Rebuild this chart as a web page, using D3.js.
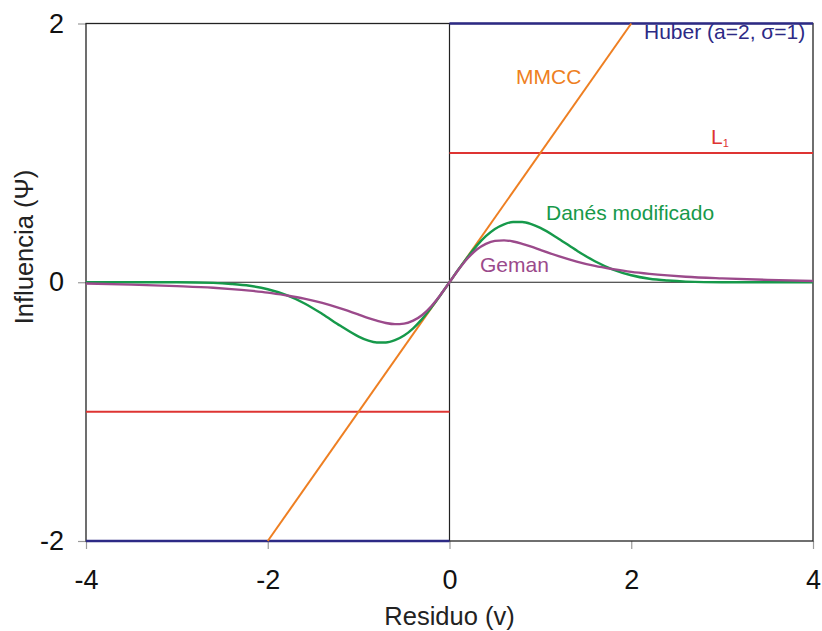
<!DOCTYPE html>
<html>
<head>
<meta charset="utf-8">
<script src="https://cdn.jsdelivr.net/npm/d3@7"></script>
<style>
  html, body { margin: 0; padding: 0; background: #fff; }
  svg { display: block; font-family: "Liberation Sans", Arial, Helvetica, sans-serif; }
</style>
</head>
<body>
<svg id="chart" width="822" height="631"></svg>
<script>
// Residual grid shared by the smooth influence curves
const residuals = [-4.0, -3.5, -3.0, -2.6, -2.4, -2.2, -2.0, -1.8, -1.6, -1.4, -1.2, -1.0,
  -0.9, -0.8, -0.7, -0.6, -0.5, -0.4, -0.3, -0.2, -0.1, 0.0,
  0.1, 0.2, 0.3, 0.4, 0.5, 0.6, 0.7, 0.8, 0.9, 1.0,
  1.2, 1.4, 1.6, 1.8, 2.0, 2.2, 2.4, 2.6, 3.0, 3.5, 4.0];

// Danés modificado influence values
const danesValues = [0.000, 0.000, 0.000, -0.005, -0.013, -0.027, -0.054, -0.098, -0.162, -0.245, -0.337, -0.420,
  -0.450, -0.466, -0.466, -0.448, -0.412, -0.356, -0.283, -0.195, -0.100, 0.000,
  0.100, 0.195, 0.283, 0.356, 0.412, 0.448, 0.466, 0.466, 0.450, 0.420,
  0.337, 0.245, 0.162, 0.098, 0.054, 0.027, 0.013, 0.005, 0.000, 0.000, 0.000];

// Geman influence values
const gemanValues = [-0.010, -0.018, -0.030, -0.043, -0.053, -0.065, -0.080, -0.101, -0.126, -0.160, -0.202, -0.250,
  -0.275, -0.297, -0.315, -0.324, -0.320, -0.297, -0.253, -0.185, -0.098, 0.000,
  0.098, 0.185, 0.253, 0.297, 0.320, 0.324, 0.315, 0.297, 0.275, 0.250,
  0.202, 0.160, 0.126, 0.101, 0.080, 0.065, 0.053, 0.043, 0.030, 0.018, 0.010];

// Piecewise estimators: each entry is a segment [x0, y0, x1, y1]
const mmccSegments = [[-2, -2, 2, 2]];
const l1Segments = [[-4, -1, 0, -1], [0, 1, 4, 1]];
const huberSegments = [[-4, -2, 0, -2], [0, 2, 4, 2]];

// Axis ticks
const xTicks = [-4, -2, 0, 2, 4];
const yTicks = [-2, 0, 2];

const colors = {
  huber: "#2d2a85",
  mmcc: "#ee7f22",
  l1: "#de3432",
  danes: "#16994a",
  geman: "#9b4a8b"
};

const margin = { top: 23.5, right: 9, bottom: 90, left: 86 };
const width = 822, height = 631;
const svg = d3.select("#chart");

const x = d3.scaleLinear().domain([-4, 4]).range([margin.left, width - margin.right]);
const y = d3.scaleLinear().domain([-2, 2]).range([height - margin.bottom, margin.top]);

// Axes with gray outward ticks
const xAxis = svg.append("g")
  .attr("transform", `translate(0,${y(-2)})`)
  .call(d3.axisBottom(x).tickValues(xTicks).tickSize(8).tickPadding(21).tickFormat(d3.format("d")));
const yAxis = svg.append("g")
  .attr("transform", `translate(${x(-4)},0)`)
  .call(d3.axisLeft(y).tickValues(yTicks).tickSize(8).tickPadding(14).tickFormat(d3.format("d")));
[xAxis, yAxis].forEach(g => {
  g.select(".domain").remove();
  g.selectAll(".tick line").attr("stroke", "#9a9a9a").attr("stroke-width", 1.2);
  g.selectAll(".tick text")
    .attr("fill", "#111")
    .style("font-size", "27px")
    .style("font-family", "'Liberation Sans', Arial, sans-serif")
    .text(d => d < 0 ? "-" + Math.abs(d) : d);
});

// Plot frame and zero axes
svg.append("rect")
  .attr("x", x(-4)).attr("y", y(2))
  .attr("width", x(4) - x(-4)).attr("height", y(-2) - y(2))
  .attr("fill", "none").attr("stroke", "#222").attr("stroke-width", 1.3);
svg.append("line")
  .attr("x1", x(0)).attr("x2", x(0)).attr("y1", y(2)).attr("y2", y(-2))
  .attr("stroke", "#222").attr("stroke-width", 1.2);
svg.append("line")
  .attr("x1", x(-4)).attr("x2", x(4)).attr("y1", y(0)).attr("y2", y(0))
  .attr("stroke", "#222").attr("stroke-width", 1.2);

// Straight-segment estimators
function drawSegments(segs, color, w) {
  svg.append("g").selectAll("line").data(segs).join("line")
    .attr("x1", d => x(d[0])).attr("y1", d => y(d[1]))
    .attr("x2", d => x(d[2])).attr("y2", d => y(d[3]))
    .attr("stroke", color).attr("stroke-width", w);
}
drawSegments(huberSegments, colors.huber, 2.6);
drawSegments(l1Segments, colors.l1, 2);
drawSegments(mmccSegments, colors.mmcc, 2);

// Smooth influence curves
const line = d3.line().x(d => x(d[0])).y(d => y(d[1])).curve(d3.curveMonotoneX);
function drawCurve(vals, color) {
  svg.append("path")
    .datum(residuals.map((r, i) => [r, vals[i]]))
    .attr("d", line)
    .attr("fill", "none").attr("stroke", color).attr("stroke-width", 2.4);
}
drawCurve(danesValues, colors.danes);
drawCurve(gemanValues, colors.geman);

// Curve labels
const labelFont = "21px";
function label(text, px, py, color) {
  return svg.append("text").attr("x", px).attr("y", py)
    .attr("fill", color).style("font-size", labelFont).text(text);
}
label("Huber (a=2, \u03c3=1)", 644, 39, colors.huber);
label("MMCC", 516, 83.5, colors.mmcc);
const l1 = label("L", 711, 144, colors.l1);
l1.append("tspan").attr("dy", 3).style("font-size", "11px").text("1");
label("Danés modificado", 546, 220, colors.danes);
label("Geman", 480, 272, colors.geman);

// Axis titles
svg.append("text")
  .attr("x", x(0)).attr("y", 625)
  .attr("text-anchor", "middle").attr("fill", "#222")
  .style("font-size", "25.5px").text("Residuo (v)");
svg.append("text")
  .attr("transform", "translate(33,247) rotate(-90)")
  .attr("text-anchor", "middle").attr("fill", "#222")
  .style("font-size", "25.5px").text("Influencia (\u03a8)");
</script>
</body>
</html>
